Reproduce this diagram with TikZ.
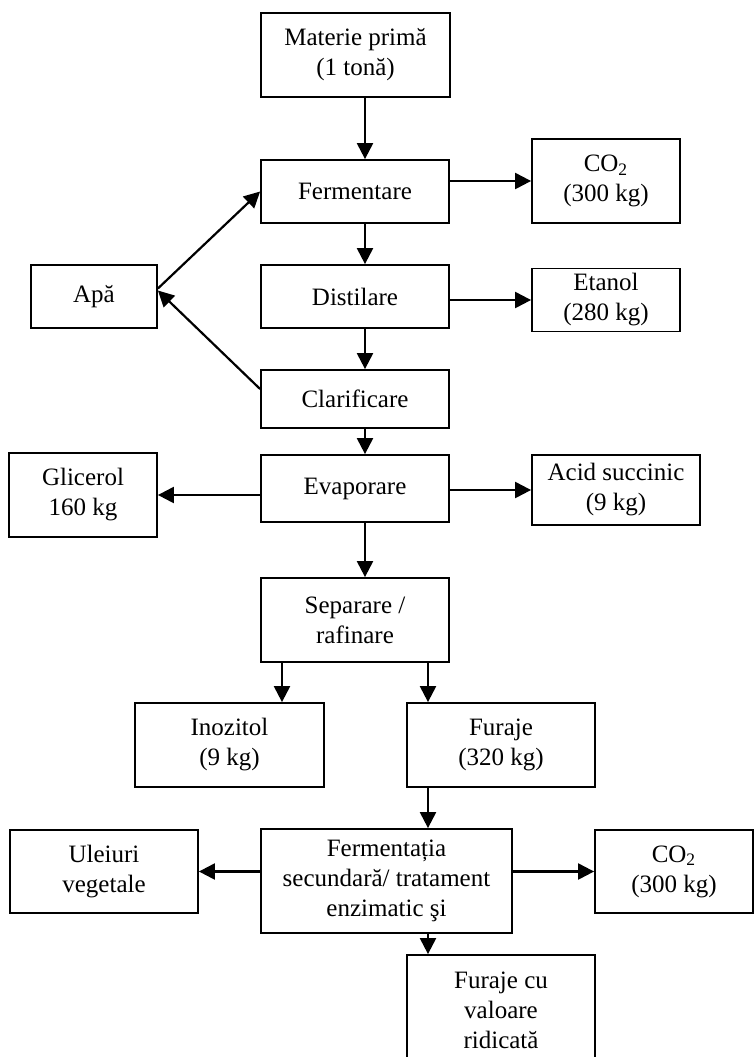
\documentclass[tikz,border=0pt]{standalone}
\usepackage{fontspec}
\setmainfont{Liberation Serif}
\usetikzlibrary{arrows.meta}
\tikzset{font={\fontsize{12.5pt}{15pt}\selectfont}}
\tikzset{
  box/.style 2 args={draw, line width=0.9pt, inner sep=0pt, align=center,
    minimum width=#1*0.5pt, minimum height=#2*0.5pt},
  arr/.style={line width=1.1pt, -{Triangle[length=8pt,width=8pt]}}
}

\begin{document}
\begin{tikzpicture}[x=0.5pt, y=-0.5pt]
      \useasboundingbox (0,0) rectangle (754,1057);
      %arrow columns
      \coordinate (spine) at (365,0);
      \coordinate (colL) at (282,0);
      \coordinate (colR) at (428,0);
      %main line
      \node[box={189}{84}] (mat) at (355.5,55) {Materie primă\\(1 tonă)};
      \node[box={188}{63}] (ferm) at (355,191.5) {Fermentare};
      \node[box={188}{63}] (dist) at (355,296.5) {Distilare};
      \node[box={188}{58}] (clar) at (355,399) {Clarificare};
      \node[box={188}{67}] (evap) at (355,488.5) {Evaporare};
      \node[box={188}{84}] (sep) at (355,620) {Separare /\\rafinare};
      %side products
      \node[box={148}{84}] (co2a) at (606,181) {CO\textsubscript{2}\\(300 kg)};
      \node[box={126}{63}] (apa) at (94,296.5) {Apă};
      \node[box={148}{63}] (etanol) at (606,300) {Etanol\\(280 kg)};
      \node[box={148}{84}] (glic) at (83,495) {Glicerol\\160 kg};
      \node[box={168}{70}] (acid) at (616,490) {Acid succinic\\(9 kg)};
      %lower part
      \node[box={189}{84}] (inoz) at (229.5,745) {Inozitol\\(9 kg)};
      \node[box={188}{84}] (furaje) at (501,745) {Furaje\\(320 kg)};
      \node[box={251}{104}] (ferm2) at (386.5,881) {Fermentația\\secundară/ tratament\\enzimatic şi};
      \node[box={188}{83}] (ulei) at (104,871.5) {Uleiuri\\vegetale};
      \node[box={158}{83}] (co2b) at (674,871.5) {CO\textsubscript{2}\\(300 kg)};
      \node[box={188}{110}] (furajeval) at (501,1010) {Furaje cu\\valoare\\ridicată};
      %arrows down
      \draw[arr] (mat.south -| spine) -- (ferm.north -| spine);
      \draw[arr] (ferm.south -| spine) -- (dist.north -| spine);
      \draw[arr] (dist.south -| spine) -- (clar.north -| spine);
      \draw[arr] (clar.south -| spine) -- (evap.north -| spine);
      \draw[arr] (evap.south -| spine) -- (sep.north -| spine);
      \draw[arr] (sep.south -| colL) -- (inoz.north -| colL);
      \draw[arr] (sep.south -| colR) -- (furaje.north -| colR);
      \draw[arr] (furaje.south -| colR) -- (ferm2.north -| colR);
      \draw[arr] (ferm2.south -| colR) -- (furajeval.north -| colR);
      %arrows sideways
      \draw[arr] (co2a.west -| ferm.east) -- (co2a.west);
      \draw[arr] (etanol.west -| dist.east) -- (etanol.west);
      \draw[arr] (glic.east -| evap.west) -- (glic.east);
      \draw[arr] (acid.west -| evap.east) -- (acid.west);
      \draw[arr] (ulei.east -| ferm2.west) -- (ulei.east);
      \draw[arr] (co2b.west -| ferm2.east) -- (co2b.west);
      %water loop
      \draw[arr] ([yshift=4pt]apa.east) -- (ferm.west);
      \draw[arr] ([yshift=5pt]clar.west) -- ([yshift=3pt]apa.east);
\end{tikzpicture}
\end{document}
